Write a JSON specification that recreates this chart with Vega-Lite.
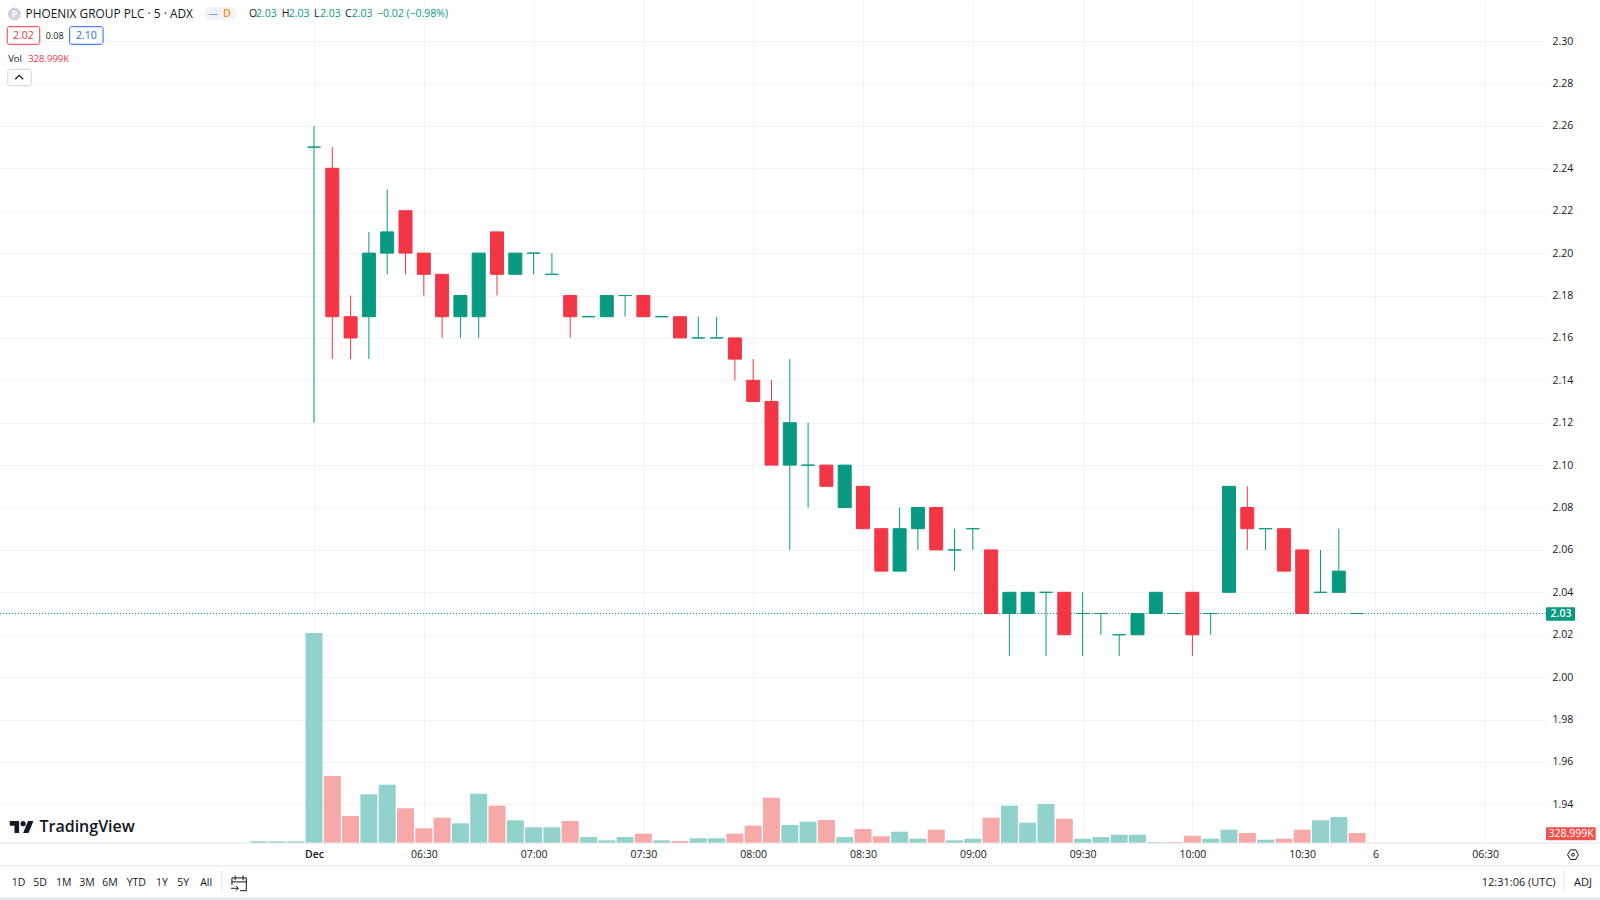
{"$schema":"https://vega.github.io/schema/vega-lite/v6.json","width":1546,"height":843,"autosize":{"type":"none"},"padding":{"left":0,"top":0,"right":54,"bottom":57},"background":"#ffffff","view":{"stroke":null},"config":{"text":{"font":"Open Sans"},"axis":{"labelFont":"Open Sans","title":null}},
"datasets":{"bars":[
{"time":"2023-12-05T05:45:00Z","volume":55000,"direction":"up","volumeSide":"up"},
{"time":"2023-12-05T05:50:00Z","volume":55000,"direction":"up","volumeSide":"up"},
{"time":"2023-12-05T05:55:00Z","volume":55000,"direction":"up","volumeSide":"up"},
{"time":"2023-12-05T06:00:00Z","open":2.25,"high":2.26,"low":2.12,"close":2.25,"volume":6909000,"direction":"up","volumeSide":"up"},
{"time":"2023-12-05T06:05:00Z","open":2.24,"high":2.25,"low":2.15,"close":2.17,"volume":2204000,"direction":"down","volumeSide":"down"},
{"time":"2023-12-05T06:10:00Z","open":2.17,"high":2.18,"low":2.15,"close":2.16,"volume":888000,"direction":"down","volumeSide":"down"},
{"time":"2023-12-05T06:15:00Z","open":2.17,"high":2.21,"low":2.15,"close":2.20,"volume":1602000,"direction":"up","volumeSide":"up"},
{"time":"2023-12-05T06:20:00Z","open":2.20,"high":2.23,"low":2.19,"close":2.21,"volume":1918000,"direction":"up","volumeSide":"up"},
{"time":"2023-12-05T06:25:00Z","open":2.22,"high":2.22,"low":2.19,"close":2.20,"volume":1142000,"direction":"down","volumeSide":"down"},
{"time":"2023-12-05T06:30:00Z","open":2.20,"high":2.20,"low":2.18,"close":2.19,"volume":484000,"direction":"down","volumeSide":"down"},
{"time":"2023-12-05T06:35:00Z","open":2.19,"high":2.19,"low":2.16,"close":2.17,"volume":832000,"direction":"down","volumeSide":"down"},
{"time":"2023-12-05T06:40:00Z","open":2.17,"high":2.18,"low":2.16,"close":2.18,"volume":648000,"direction":"up","volumeSide":"up"},
{"time":"2023-12-05T06:45:00Z","open":2.17,"high":2.20,"low":2.16,"close":2.20,"volume":1622000,"direction":"up","volumeSide":"up"},
{"time":"2023-12-05T06:50:00Z","open":2.21,"high":2.21,"low":2.18,"close":2.19,"volume":1227000,"direction":"down","volumeSide":"down"},
{"time":"2023-12-05T06:55:00Z","open":2.19,"high":2.20,"low":2.19,"close":2.20,"volume":747000,"direction":"up","volumeSide":"up"},
{"time":"2023-12-05T07:00:00Z","open":2.20,"high":2.20,"low":2.19,"close":2.20,"volume":517000,"direction":"up","volumeSide":"up"},
{"time":"2023-12-05T07:05:00Z","open":2.19,"high":2.20,"low":2.19,"close":2.19,"volume":517000,"direction":"up","volumeSide":"up"},
{"time":"2023-12-05T07:10:00Z","open":2.18,"high":2.18,"low":2.16,"close":2.17,"volume":724000,"direction":"down","volumeSide":"down"},
{"time":"2023-12-05T07:15:00Z","open":2.17,"high":2.17,"low":2.17,"close":2.17,"volume":197000,"direction":"up","volumeSide":"up"},
{"time":"2023-12-05T07:20:00Z","open":2.17,"high":2.18,"low":2.17,"close":2.18,"volume":89000,"direction":"up","volumeSide":"up"},
{"time":"2023-12-05T07:25:00Z","open":2.18,"high":2.18,"low":2.17,"close":2.18,"volume":197000,"direction":"up","volumeSide":"up"},
{"time":"2023-12-05T07:30:00Z","open":2.18,"high":2.18,"low":2.17,"close":2.17,"volume":306000,"direction":"down","volumeSide":"down"},
{"time":"2023-12-05T07:35:00Z","open":2.17,"high":2.17,"low":2.17,"close":2.17,"volume":89000,"direction":"up","volumeSide":"up"},
{"time":"2023-12-05T07:40:00Z","open":2.17,"high":2.17,"low":2.16,"close":2.16,"volume":66000,"direction":"down","volumeSide":"down"},
{"time":"2023-12-05T07:45:00Z","open":2.16,"high":2.17,"low":2.16,"close":2.16,"volume":155000,"direction":"up","volumeSide":"up"},
{"time":"2023-12-05T07:50:00Z","open":2.16,"high":2.17,"low":2.16,"close":2.16,"volume":155000,"direction":"up","volumeSide":"up"},
{"time":"2023-12-05T07:55:00Z","open":2.16,"high":2.16,"low":2.14,"close":2.15,"volume":306000,"direction":"down","volumeSide":"down"},
{"time":"2023-12-05T08:00:00Z","open":2.14,"high":2.15,"low":2.13,"close":2.13,"volume":569000,"direction":"down","volumeSide":"down"},
{"time":"2023-12-05T08:05:00Z","open":2.13,"high":2.14,"low":2.10,"close":2.10,"volume":1490000,"direction":"down","volumeSide":"down"},
{"time":"2023-12-05T08:10:00Z","open":2.10,"high":2.15,"low":2.06,"close":2.12,"volume":592000,"direction":"up","volumeSide":"up"},
{"time":"2023-12-05T08:15:00Z","open":2.10,"high":2.12,"low":2.08,"close":2.10,"volume":701000,"direction":"up","volumeSide":"up"},
{"time":"2023-12-05T08:20:00Z","open":2.10,"high":2.10,"low":2.09,"close":2.09,"volume":757000,"direction":"down","volumeSide":"down"},
{"time":"2023-12-05T08:25:00Z","open":2.08,"high":2.10,"low":2.08,"close":2.10,"volume":197000,"direction":"up","volumeSide":"up"},
{"time":"2023-12-05T08:30:00Z","open":2.09,"high":2.09,"low":2.07,"close":2.07,"volume":461000,"direction":"down","volumeSide":"down"},
{"time":"2023-12-05T08:35:00Z","open":2.07,"high":2.07,"low":2.05,"close":2.05,"volume":220000,"direction":"down","volumeSide":"down"},
{"time":"2023-12-05T08:40:00Z","open":2.05,"high":2.08,"low":2.05,"close":2.07,"volume":372000,"direction":"up","volumeSide":"up"},
{"time":"2023-12-05T08:45:00Z","open":2.07,"high":2.08,"low":2.06,"close":2.08,"volume":141000,"direction":"up","volumeSide":"up"},
{"time":"2023-12-05T08:50:00Z","open":2.08,"high":2.08,"low":2.06,"close":2.06,"volume":438000,"direction":"down","volumeSide":"down"},
{"time":"2023-12-05T08:55:00Z","open":2.06,"high":2.07,"low":2.05,"close":2.06,"volume":89000,"direction":"up","volumeSide":"up"},
{"time":"2023-12-05T09:00:00Z","open":2.07,"high":2.07,"low":2.06,"close":2.07,"volume":141000,"direction":"up","volumeSide":"up"},
{"time":"2023-12-05T09:05:00Z","open":2.06,"high":2.06,"low":2.03,"close":2.03,"volume":832000,"direction":"down","volumeSide":"down"},
{"time":"2023-12-05T09:10:00Z","open":2.03,"high":2.04,"low":2.01,"close":2.04,"volume":1227000,"direction":"up","volumeSide":"up"},
{"time":"2023-12-05T09:15:00Z","open":2.03,"high":2.04,"low":2.03,"close":2.04,"volume":668000,"direction":"up","volumeSide":"up"},
{"time":"2023-12-05T09:20:00Z","open":2.04,"high":2.04,"low":2.01,"close":2.04,"volume":1283000,"direction":"up","volumeSide":"up"},
{"time":"2023-12-05T09:25:00Z","open":2.04,"high":2.04,"low":2.02,"close":2.02,"volume":799000,"direction":"down","volumeSide":"down"},
{"time":"2023-12-05T09:30:00Z","open":2.03,"high":2.04,"low":2.01,"close":2.03,"volume":141000,"direction":"up","volumeSide":"up"},
{"time":"2023-12-05T09:35:00Z","open":2.03,"high":2.03,"low":2.02,"close":2.03,"volume":197000,"direction":"up","volumeSide":"up"},
{"time":"2023-12-05T09:40:00Z","open":2.02,"high":2.02,"low":2.01,"close":2.02,"volume":273000,"direction":"up","volumeSide":"up"},
{"time":"2023-12-05T09:45:00Z","open":2.02,"high":2.03,"low":2.02,"close":2.03,"volume":273000,"direction":"up","volumeSide":"up"},
{"time":"2023-12-05T09:50:00Z","open":2.03,"high":2.04,"low":2.03,"close":2.04,"volume":33000,"direction":"up","volumeSide":"up"},
{"time":"2023-12-05T09:55:00Z","open":2.03,"high":2.03,"low":2.03,"close":2.03,"volume":33000,"direction":"up","volumeSide":"down"},
{"time":"2023-12-05T10:00:00Z","open":2.04,"high":2.04,"low":2.01,"close":2.02,"volume":240000,"direction":"down","volumeSide":"down"},
{"time":"2023-12-05T10:05:00Z","open":2.03,"high":2.03,"low":2.02,"close":2.03,"volume":141000,"direction":"up","volumeSide":"up"},
{"time":"2023-12-05T10:10:00Z","open":2.04,"high":2.09,"low":2.04,"close":2.09,"volume":438000,"direction":"up","volumeSide":"up"},
{"time":"2023-12-05T10:15:00Z","open":2.08,"high":2.09,"low":2.06,"close":2.07,"volume":329000,"direction":"down","volumeSide":"down"},
{"time":"2023-12-05T10:20:00Z","open":2.07,"high":2.07,"low":2.06,"close":2.07,"volume":109000,"direction":"up","volumeSide":"up"},
{"time":"2023-12-05T10:25:00Z","open":2.07,"high":2.07,"low":2.05,"close":2.05,"volume":141000,"direction":"down","volumeSide":"down"},
{"time":"2023-12-05T10:30:00Z","open":2.06,"high":2.06,"low":2.03,"close":2.03,"volume":438000,"direction":"down","volumeSide":"down"},
{"time":"2023-12-05T10:35:00Z","open":2.04,"high":2.06,"low":2.04,"close":2.04,"volume":747000,"direction":"up","volumeSide":"up"},
{"time":"2023-12-05T10:40:00Z","open":2.04,"high":2.07,"low":2.04,"close":2.05,"volume":855000,"direction":"up","volumeSide":"up"},
{"time":"2023-12-05T10:45:00Z","open":2.03,"high":2.03,"low":2.03,"close":2.03,"volume":328999,"direction":"up","volumeSide":"down"}
]},
"layer":[
{"data":{"name":"bars"},"mark":{"type":"bar","width":17},"encoding":{
"x":{"field":"time","type":"temporal","scale":{"type":"utc","nice":false,"padding":0,"domain":[1701750852472,1701776196669]},"axis":{"values":[1701756000000,1701757800000,1701759600000,1701761400000,1701763200000,1701765000000,1701766800000,1701768600000,1701770400000,1701772200000,1701773400000,1701775200000],"labelExpr":"+datum.value==1701756000000?'Dec':+datum.value==1701773400000?'6':+datum.value==1701775200000?'06:30':utcFormat(datum.value,'%H:%M')","labelFontWeight":{"condition":{"test":"+datum.value==1701756000000","value":600},"value":400},"ticks":false,"domain":false,"grid":true,"gridColor":"#f2f3f6","labelColor":"#131722","labelFontSize":10.5,"labelPadding":6,"labelOverlap":false,"labelFlush":false,"title":null}},
"y":{"field":"volume","type":"quantitative","scale":{"domain":[0,27734700],"nice":false},"axis":null},
"fill":{"field":"volumeSide","type":"nominal","scale":{"domain":["up","down"],"range":["#92d2cc","#f7a9a7"]},"legend":null}}},
{"layer":[
{"data":{"values":[{}]},"mark":{"type":"rule","color":"#089981","strokeDash":[1,2],"strokeWidth":1},"encoding":{"y":{"datum":2.03}}},
{"data":{"name":"bars"},"transform":[{"filter":"isValid(datum.open)"}],"mark":{"type":"rule","strokeWidth":1},"encoding":{
"x":{"field":"time","type":"temporal"},
"y":{"field":"low","type":"quantitative","scale":{"domain":[1.92175,2.31939],"nice":false,"zero":false},"axis":{"values":[1.94,1.96,1.98,2.0,2.02,2.04,2.06,2.08,2.1,2.12,2.14,2.16,2.18,2.2,2.22,2.24,2.26,2.28,2.3],"format":".2f","orient":"right","ticks":false,"domain":false,"grid":true,"gridColor":"#f2f3f6","labelColor":"#131722","labelFontSize":10.5,"labelPadding":6,"labelOverlap":false,"labelBound":false,"title":null}},
"y2":{"field":"high"},
"color":{"field":"direction","type":"nominal","scale":{"domain":["up","down"],"range":["#089981","#f23645"]},"legend":null}}},
{"data":{"name":"bars"},"transform":[{"filter":"isValid(datum.open)"}],"mark":{"type":"bar","width":13,"strokeWidth":1},"encoding":{
"x":{"field":"time","type":"temporal"},
"y":{"field":"open","type":"quantitative"},
"y2":{"field":"close"},
"color":{"field":"direction","type":"nominal","legend":null},
"stroke":{"field":"direction","type":"nominal","scale":{"domain":["up","down"],"range":["#089981","#f23645"]},"legend":null}}},

{"data":{"values":[{}]},"mark":{"type":"rule","color":"#e0e3eb"},"encoding":{"x":{"datum":1701750852472,"type":"temporal"},"x2":{"datum":1701777081900},"y":{"datum":1.92175}}},
{"data":{"values":[{}]},"mark":{"type":"rule","color":"#e0e3eb"},"encoding":{"x":{"datum":1701750852472,"type":"temporal"},"x2":{"datum":1701777081900},"y":{"datum":1.9109}}},
{"data":{"values":[{}]},"mark":{"type":"rect","color":"#e9ecf4"},"encoding":{"x":{"datum":1701750852472,"type":"temporal"},"x2":{"datum":1701777081900},"y":{"datum":1.89628},"y2":{"datum":1.89486}}},
{"data":{"values":[{}]},"mark":{"type":"rule","color":"#e0e3eb"},"encoding":{"x":{"datum":1701754489400,"type":"temporal"},"y":{"datum":1.90902},"y2":{"datum":1.89817}}},
{"data":{"values":[{}]},"mark":{"type":"rule","color":"#e0e3eb"},"encoding":{"x":{"datum":1701776491800,"type":"temporal"},"y":{"datum":1.90902},"y2":{"datum":1.89817}}},

{"data":{"values":[{}]},"mark":{"type":"rect","color":"#089981","cornerRadius":1},"encoding":{"x":{"datum":1701776196700,"type":"temporal"},"x2":{"datum":1701776672100},"y":{"datum":2.03292},"y2":{"datum":2.0266}}},
{"data":{"values":[{}]},"mark":{"type":"text","text":"2.03","color":"#ffffff","fontSize":10.5,"fontWeight":600},"encoding":{"x":{"datum":1701776442600,"type":"temporal"},"y":{"datum":2.03}}},
{"data":{"values":[{}]},"mark":{"type":"rect","color":"#ef5350","cornerRadius":1},"encoding":{"x":{"datum":1701776196700,"type":"temporal"},"x2":{"datum":1701777011600},"y":{"datum":1.92916},"y2":{"datum":1.92302}}},
{"data":{"values":[{}]},"mark":{"type":"text","text":"328.999K","color":"#ffffff","fontSize":10.5},"encoding":{"x":{"datum":1701776606500,"type":"temporal"},"y":{"datum":1.92609}}},

{"data":{"values":[{}]},"mark":{"type":"point","shape":"circle","filled":true,"size":170,"color":"#d1d4dc","opacity":1},"encoding":{"x":{"datum":1701751090000,"type":"temporal"},"y":{"datum":2.31279}}},
{"data":{"values":[{}]},"mark":{"type":"text","text":"P","color":"#ffffff","fontSize":9,"fontWeight":600},"encoding":{"x":{"datum":1701751090000,"type":"temporal"},"y":{"datum":2.31279}}},
{"data":{"values":[{}]},"mark":{"type":"text","text":"PHOENIX GROUP PLC · 5 · ADX","align":"left","color":"#131722","fontSize":11.9},"encoding":{"x":{"datum":1701751270100,"type":"temporal"},"y":{"datum":2.31279}}},
{"data":{"values":[{}]},"mark":{"type":"rect","color":"#f0f3fa","cornerRadius":6},"encoding":{"x":{"datum":1701754199700,"type":"temporal"},"x2":{"datum":1701754723400},"y":{"datum":2.31609},"y2":{"datum":2.30996}}},
{"data":{"values":[{}]},"mark":{"type":"text","text":"—","color":"#9598a1","fontSize":9,"fontWeight":700},"encoding":{"x":{"datum":1701754347000,"type":"temporal"},"y":{"datum":2.31279}}},
{"data":{"values":[{}]},"mark":{"type":"text","text":"D","color":"#ff9800","fontSize":11,"fontWeight":600},"encoding":{"x":{"datum":1701754576100,"type":"temporal"},"y":{"datum":2.31279}}},
{"data":{"values":[{}]},"mark":{"type":"text","text":"O","align":"left","color":"#131722","fontSize":10.5},"encoding":{"x":{"datum":1701754936200,"type":"temporal"},"y":{"datum":2.31279}}},
{"data":{"values":[{}]},"mark":{"type":"text","text":"2.03","align":"left","color":"#089981","fontSize":10.5},"encoding":{"x":{"datum":1701755050700,"type":"temporal"},"y":{"datum":2.31279}}},
{"data":{"values":[{}]},"mark":{"type":"text","text":"H","align":"left","color":"#131722","fontSize":10.5},"encoding":{"x":{"datum":1701755471400,"type":"temporal"},"y":{"datum":2.31279}}},
{"data":{"values":[{}]},"mark":{"type":"text","text":"2.03","align":"left","color":"#089981","fontSize":10.5},"encoding":{"x":{"datum":1701755585900,"type":"temporal"},"y":{"datum":2.31279}}},
{"data":{"values":[{}]},"mark":{"type":"text","text":"L","align":"left","color":"#131722","fontSize":10.5},"encoding":{"x":{"datum":1701756000000,"type":"temporal"},"y":{"datum":2.31279}}},
{"data":{"values":[{}]},"mark":{"type":"text","text":"2.03","align":"left","color":"#089981","fontSize":10.5},"encoding":{"x":{"datum":1701756098200,"type":"temporal"},"y":{"datum":2.31279}}},
{"data":{"values":[{}]},"mark":{"type":"text","text":"C","align":"left","color":"#131722","fontSize":10.5},"encoding":{"x":{"datum":1701756507400,"type":"temporal"},"y":{"datum":2.31279}}},
{"data":{"values":[{}]},"mark":{"type":"text","text":"2.03","align":"left","color":"#089981","fontSize":10.5},"encoding":{"x":{"datum":1701756617000,"type":"temporal"},"y":{"datum":2.31279}}},
{"data":{"values":[{}]},"mark":{"type":"text","text":"−0.02 (−0.98%)","align":"left","color":"#089981","fontSize":10.5},"encoding":{"x":{"datum":1701757031100,"type":"temporal"},"y":{"datum":2.31279}}},

{"data":{"values":[{}]},"mark":{"type":"rect","fill":"#ffffff","stroke":"#f23645","cornerRadius":2},"encoding":{"x":{"datum":1701750970600,"type":"temporal"},"x2":{"datum":1701751504100},"y":{"datum":2.3068},"y2":{"datum":2.29849}}},
{"data":{"values":[{}]},"mark":{"type":"text","text":"2.02","color":"#f23645","fontSize":10.5},"encoding":{"x":{"datum":1701751237300,"type":"temporal"},"y":{"datum":2.30264}}},
{"data":{"values":[{}]},"mark":{"type":"text","text":"0.08","color":"#131722","fontSize":9},"encoding":{"x":{"datum":1701751749600,"type":"temporal"},"y":{"datum":2.30264}}},
{"data":{"values":[{}]},"mark":{"type":"rect","fill":"#ffffff","stroke":"#2962ff","cornerRadius":2},"encoding":{"x":{"datum":1701751995100,"type":"temporal"},"x2":{"datum":1701752541700},"y":{"datum":2.3068},"y2":{"datum":2.29849}}},
{"data":{"values":[{}]},"mark":{"type":"text","text":"2.10","color":"#2962ff","fontSize":10.5},"encoding":{"x":{"datum":1701752268400,"type":"temporal"},"y":{"datum":2.30264}}},
{"data":{"values":[{}]},"mark":{"type":"text","text":"Vol","align":"left","color":"#131722","fontSize":9.5},"encoding":{"x":{"datum":1701750986900,"type":"temporal"},"y":{"datum":2.2917}}},
{"data":{"values":[{}]},"mark":{"type":"text","text":"328.999K","align":"left","color":"#f23645","fontSize":9.5},"encoding":{"x":{"datum":1701751314200,"type":"temporal"},"y":{"datum":2.2917}}},
{"data":{"values":[{}]},"mark":{"type":"rect","fill":"#ffffff","stroke":"#d1d4dc","cornerRadius":2},"encoding":{"x":{"datum":1701750980400,"type":"temporal"},"x2":{"datum":1701751363300},"y":{"datum":2.2867},"y2":{"datum":2.27897}}},
{"data":{"values":[{}]},"mark":{"type":"point","shape":"M-1 0.5L0 -0.5L1 0.5","filled":false,"size":64,"stroke":"#131722","strokeWidth":1.2,"opacity":1},"encoding":{"x":{"datum":1701751167000,"type":"temporal"},"y":{"datum":2.28293}}},

{"data":{"values":[{}]},"mark":{"type":"point","shape":"M-.222 .5L-.611 .5L-.611 -.111L-1 -.111L-1 -.5L-.222 -.5ZM.556 .5L.111 .5L.528 -.5L.972 -.5ZM-.111 -.278a.222 .222 0 1 0 .444 0a.222 .222 0 1 0 -.444 0Z","filled":true,"size":576,"fill":"#131722","color":"#131722","opacity":1},"encoding":{"x":{"datum":1701751209500,"type":"temporal"},"y":{"datum":1.9293}}},
{"data":{"values":[{}]},"mark":{"type":"text","text":"TradingView","align":"left","color":"#131722","fontSize":16,"fontWeight":600},"encoding":{"x":{"datum":1701751499200,"type":"temporal"},"y":{"datum":1.9293}}},

{"data":{"values":[{}]},"mark":{"type":"text","text":"1D","color":"#131722","fontSize":10.5},"encoding":{"x":{"datum":1701751155500,"type":"temporal"},"y":{"datum":1.90265}}},
{"data":{"values":[{}]},"mark":{"type":"text","text":"5D","color":"#131722","fontSize":10.5},"encoding":{"x":{"datum":1701751510600,"type":"temporal"},"y":{"datum":1.90265}}},
{"data":{"values":[{}]},"mark":{"type":"text","text":"1M","color":"#131722","fontSize":10.5},"encoding":{"x":{"datum":1701751896900,"type":"temporal"},"y":{"datum":1.90265}}},
{"data":{"values":[{}]},"mark":{"type":"text","text":"3M","color":"#131722","fontSize":10.5},"encoding":{"x":{"datum":1701752279900,"type":"temporal"},"y":{"datum":1.90265}}},
{"data":{"values":[{}]},"mark":{"type":"text","text":"6M","color":"#131722","fontSize":10.5},"encoding":{"x":{"datum":1701752656300,"type":"temporal"},"y":{"datum":1.90265}}},
{"data":{"values":[{}]},"mark":{"type":"text","text":"YTD","color":"#131722","fontSize":10.5},"encoding":{"x":{"datum":1701753086700,"type":"temporal"},"y":{"datum":1.90265}}},
{"data":{"values":[{}]},"mark":{"type":"text","text":"1Y","color":"#131722","fontSize":10.5},"encoding":{"x":{"datum":1701753507400,"type":"temporal"},"y":{"datum":1.90265}}},
{"data":{"values":[{}]},"mark":{"type":"text","text":"5Y","color":"#131722","fontSize":10.5},"encoding":{"x":{"datum":1701753856000,"type":"temporal"},"y":{"datum":1.90265}}},
{"data":{"values":[{}]},"mark":{"type":"text","text":"All","color":"#131722","fontSize":10.5},"encoding":{"x":{"datum":1701754232400,"type":"temporal"},"y":{"datum":1.90265}}},
{"data":{"values":[{}]},"mark":{"type":"point","shape":"M-.9 -.2L.9 -.2M-.9 -.7L.9 -.7L.9 .9L.1 .9M-.9 -.7L-.9 .2M-.5 -1L-.5 -.4M.5 -1L.5 -.4M-1 .6L-.1 .6M-.4 .3L-.1 .6L-.4 .9","filled":false,"size":256,"stroke":"#131722","strokeWidth":1,"opacity":1},"encoding":{"x":{"datum":1701754772500,"type":"temporal"},"y":{"datum":1.90265}}},
{"data":{"values":[{}]},"mark":{"type":"text","text":"12:31:06 (UTC)","align":"left","color":"#131722","fontSize":11},"encoding":{"x":{"datum":1701775142600,"type":"temporal"},"y":{"datum":1.90265}}},
{"data":{"values":[{}]},"mark":{"type":"text","text":"ADJ","color":"#131722","fontSize":11},"encoding":{"x":{"datum":1701776803200,"type":"temporal"},"y":{"datum":1.90265}}},
{"data":{"values":[{}]},"mark":{"type":"point","shape":"M-.9 0L-.45 -.8L.45 -.8L.9 0L.45 .8L-.45 .8Z","filled":false,"size":144,"stroke":"#131722","strokeWidth":1,"opacity":1},"encoding":{"x":{"datum":1701776639300,"type":"temporal"},"y":{"datum":1.91623}}},
{"data":{"values":[{}]},"mark":{"type":"point","shape":"circle","filled":false,"size":8,"stroke":"#131722","strokeWidth":1,"opacity":1},"encoding":{"x":{"datum":1701776639300,"type":"temporal"},"y":{"datum":1.91623}}}
]}
],
"resolve":{"scale":{"y":"independent"}}}
